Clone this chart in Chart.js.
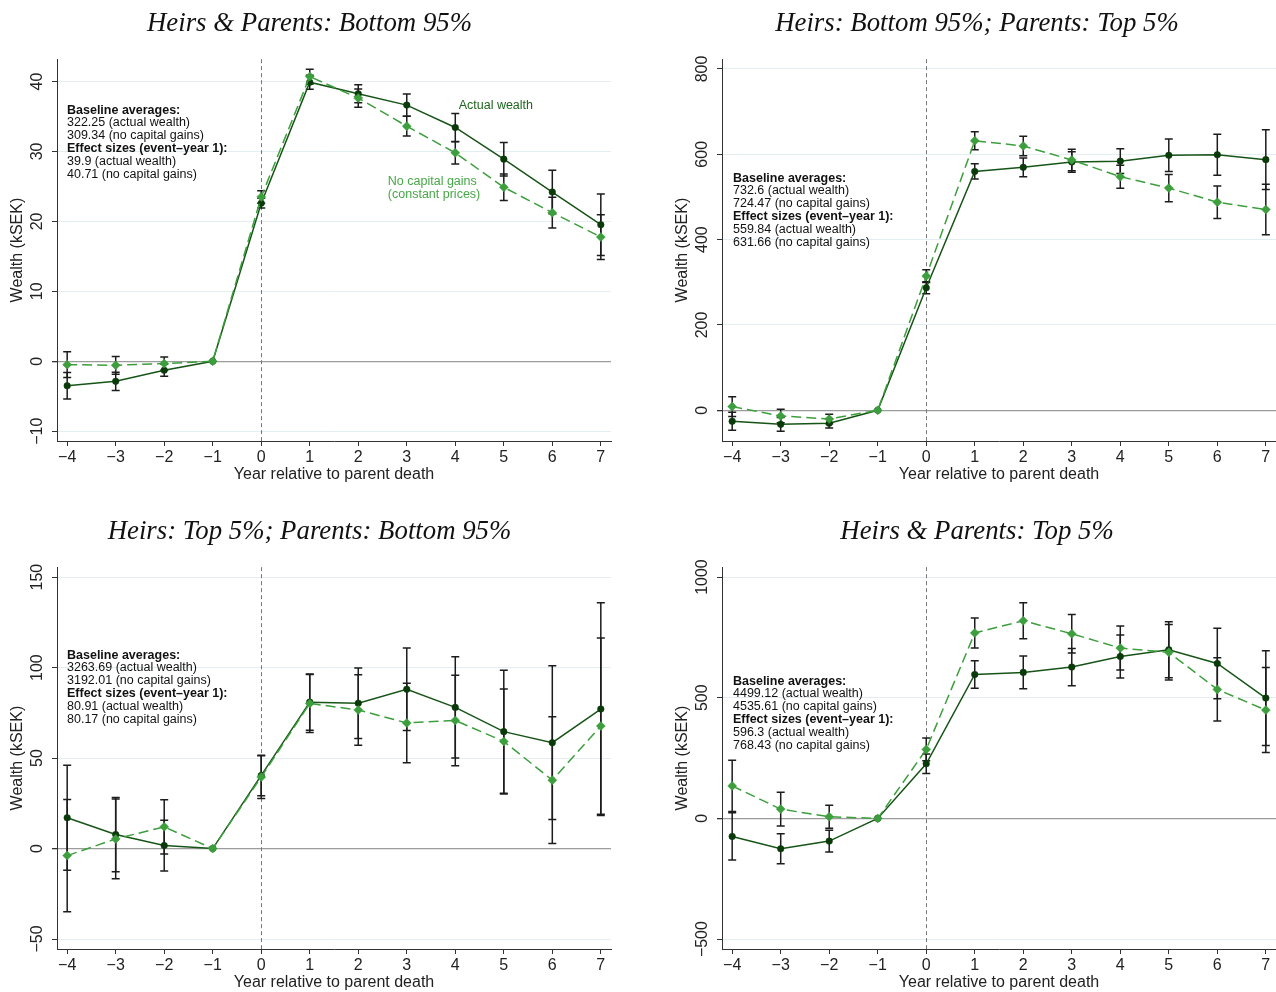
<!DOCTYPE html>
<html>
<head>
<meta charset="utf-8">
<title>Wealth around parent death</title>
<script src="https://cdn.jsdelivr.net/npm/chart.js@4.4.1/dist/chart.umd.min.js"></script>
<style>
  body { margin: 0; background: #fff; width: 1276px; height: 992px; position: relative; overflow: hidden; }
  .panel { position: absolute; }
</style>
</head>
<body>
<div class="panel" style="left:0;top:0"><canvas id="c1" width="638" height="484"></canvas></div>
<div class="panel" style="left:665px;top:0"><canvas id="c2" width="616" height="484"></canvas></div>
<div class="panel" style="left:0;top:508px"><canvas id="c3" width="638" height="484"></canvas></div>
<div class="panel" style="left:665px;top:508px"><canvas id="c4" width="616" height="484"></canvas></div>
<script>
const years = [-4, -3, -2, -1, 0, 1, 2, 3, 4, 5, 6, 7];

// Heirs & Parents: Bottom 95%
const p1Actual    = [-3.5, -2.87, -1.29, 0, 22.6, 39.9, 38.25, 36.63, 33.43, 28.9, 24.2, 19.53];
const p1ActualCI  = [1.9, 1.3, 0.86, 0, 0.7, 1.0, 1.3, 1.6, 2.0, 2.4, 3.1, 4.4];
const p1NoGains   = [-0.48, -0.57, -0.33, 0, 23.5, 40.71, 37.63, 33.62, 29.8, 24.88, 21.25, 17.76];
const p1NoGainsCI = [1.83, 1.27, 0.95, 0, 0.9, 1.05, 1.3, 1.4, 1.6, 1.9, 2.2, 3.2];
const p1YTicks    = [-10, 0, 10, 20, 30, 40];
const p1Notes     = ['Baseline averages:', '322.25 (actual wealth)', '309.34 (no capital gains)',
                     'Effect sizes (event\u2013year 1):', '39.9 (actual wealth)', '40.71 (no capital gains)'];

// Heirs: Bottom 95%; Parents: Top 5%
const p2Actual    = [-25.9, -33, -30.6, 0, 287, 559.84, 569.4, 582, 584, 597.6, 599, 587.5];
const p2ActualCI  = [21, 16, 11, 0, 14, 18, 22, 24, 29, 38, 48, 70];
const p2NoGains   = [8.6, -13.3, -20.4, 0, 314.5, 631.66, 619.6, 586.7, 547.5, 520.8, 487.8, 470.6];
const p2NoGainsCI = [23, 16, 11, 0, 15, 21, 23, 25, 27, 32, 38, 59];
const p2YTicks    = [0, 200, 400, 600, 800];
const p2Notes     = ['Baseline averages:', '732.6 (actual wealth)', '724.47 (no capital gains)',
                     'Effect sizes (event\u2013year 1):', '559.84 (actual wealth)', '631.66 (no capital gains)'];

// Heirs: Top 5%; Parents: Bottom 95%
const p3Actual    = [17, 7.75, 1.66, 0, 40.4, 80.91, 80.3, 88, 78, 64.6, 58.5, 77.1];
const p3ActualCI  = [29, 20.5, 14, 0, 11.2, 15.5, 19.5, 22.8, 28, 34, 42.5, 58.8];
const p3NoGains   = [-3.9, 5.35, 12, 0, 39.5, 80.17, 76.6, 69.4, 70.8, 59.2, 37.8, 67.7];
const p3NoGainsCI = [31, 22, 15, 0, 11.8, 16, 19.5, 22, 25, 29, 35, 48.7];
const p3YTicks    = [-50, 0, 50, 100, 150];
const p3Notes     = ['Baseline averages:', '3263.69 (actual wealth)', '3192.01 (no capital gains)',
                     'Effect sizes (event\u2013year 1):', '80.91 (actual wealth)', '80.17 (no capital gains)'];

// Heirs & Parents: Top 5%
const p4Actual    = [-74.6, -125.7, -94, 0, 226.5, 596.3, 605, 627, 671, 699, 642, 498.6];
const p4ActualCI  = [98, 62, 45, 0, 40, 57, 67.5, 77, 89, 116, 146, 196];
const p4NoGains   = [134.7, 38.7, 6.9, 0, 286, 768.43, 819, 765, 705.8, 688, 534.5, 449];
const p4NoGainsCI = [106, 70, 48, 0, 47, 62, 74.5, 80, 91, 115, 131, 176];
const p4YTicks    = [-500, 0, 500, 1000];
const p4Notes     = ['Baseline averages:', '4499.12 (actual wealth)', '4535.61 (no capital gains)',
                     'Effect sizes (event\u2013year 1):', '596.3 (actual wealth)', '768.43 (no capital gains)'];

const DARK = '#175417';
const DARK_PT = '#0a3a0a';
const LIGHT = '#3c9e3c';
const SANS = '"Liberation Sans", Arial, Helvetica, sans-serif';
const SERIF = '"Palatino Linotype", "URW Palladio L", "Liberation Serif", "DejaVu Serif", serif';

const fmt = v => (v < 0 ? '\u2212' + Math.abs(v) : String(v));

const panels = [
  { id: 'c1', title: 'Heirs & Parents: Bottom 95%', a: p1Actual, aCI: p1ActualCI, n: p1NoGains, nCI: p1NoGainsCI,
    yMin: -11.4, yMax: 43.2, yTicks: p1YTicks, notes: p1Notes, noteDx: 10, noteDy: 51, padRight: 27, seriesLabels: true },
  { id: 'c2', title: 'Heirs: Bottom 95%; Parents: Top 5%', a: p2Actual, aCI: p2ActualCI, n: p2NoGains, nCI: p2NoGainsCI,
    yMin: -72, yMax: 823, yTicks: p2YTicks, notes: p2Notes, noteDx: 11, noteDy: 119, padRight: 0 },
  { id: 'c3', title: 'Heirs: Top 5%; Parents: Bottom 95%', a: p3Actual, aCI: p3ActualCI, n: p3NoGains, nCI: p3NoGainsCI,
    yMin: -55.5, yMax: 155.5, yTicks: p3YTicks, notes: p3Notes, noteDx: 10, noteDy: 88, padRight: 27 },
  { id: 'c4', title: 'Heirs & Parents: Top 5%', a: p4Actual, aCI: p4ActualCI, n: p4NoGains, nCI: p4NoGainsCI,
    yMin: -541, yMax: 1041, yTicks: p4YTicks, notes: p4Notes, noteDx: 11, noteDy: 114, padRight: 0 }
];

// error bars + dashed line at year 0, drawn under the series
const underlay = {
  id: 'underlay',
  beforeDatasetsDraw(chart) {
    const { ctx, chartArea, scales: { x, y } } = chart;
    ctx.save();
    ctx.strokeStyle = '#777';
    ctx.lineWidth = 1;
    ctx.setLineDash([4, 3]);
    const x0 = Math.round(x.getPixelForValue(0)) + 0.5;
    ctx.beginPath();
    ctx.moveTo(x0, chartArea.top);
    ctx.lineTo(x0, chartArea.bottom);
    ctx.stroke();
    ctx.setLineDash([]);

    ctx.strokeStyle = '#1c1c1c';
    ctx.lineWidth = 1.5;
    chart.data.datasets.forEach(ds => {
      ds.data.forEach((p, i) => {
        const ci = ds.ci[i];
        if (!ci) return;
        const px = x.getPixelForValue(p.x);
        const hi = y.getPixelForValue(p.y + ci);
        const lo = y.getPixelForValue(p.y - ci);
        ctx.beginPath();
        ctx.moveTo(px, hi); ctx.lineTo(px, lo);
        ctx.moveTo(px - 4, hi); ctx.lineTo(px + 4, hi);
        ctx.moveTo(px - 4, lo); ctx.lineTo(px + 4, lo);
        ctx.stroke();
      });
    });
    ctx.restore();
  }
};

// rotated y tick labels, notes and series labels
const overlay = {
  id: 'overlay',
  afterDraw(chart) {
    const { ctx, chartArea, scales: { x, y } } = chart;
    const cfg = chart.options.plugins.overlay;
    ctx.save();
    ctx.fillStyle = '#222';
    ctx.font = '16px ' + SANS;
    ctx.textAlign = 'center';
    ctx.textBaseline = 'middle';
    cfg.yTicks.forEach(v => {
      ctx.save();
      ctx.translate(chartArea.left - 19, y.getPixelForValue(v));
      ctx.rotate(-Math.PI / 2);
      ctx.fillText(fmt(v), 0, 0);
      ctx.restore();
    });

    ctx.textAlign = 'left';
    ctx.fillStyle = '#111';
    cfg.notes.forEach((line, i) => {
      ctx.font = (i === 0 || i === 3 ? 'bold ' : '') + '12.5px ' + SANS;
      ctx.fillText(line, chartArea.left + cfg.noteDx, chartArea.top + cfg.noteDy + i * 12.8);
    });

    if (cfg.seriesLabels) {
      ctx.font = '12.5px ' + SANS;
      ctx.fillStyle = '#1e661e';
      ctx.fillText('Actual wealth', x.getPixelForValue(4.07), y.getPixelForValue(36.5));
      ctx.fillStyle = '#46a846';
      ctx.fillText('No capital gains', x.getPixelForValue(2.61), y.getPixelForValue(25.75));
      ctx.fillText('(constant prices)', x.getPixelForValue(2.61), y.getPixelForValue(23.9));
    }
    ctx.restore();
  }
};

panels.forEach(p => {
  new Chart(document.getElementById(p.id), {
    type: 'line',
    data: {
      datasets: [
        {
          label: 'No capital gains (constant prices)',
          data: years.map((yr, i) => ({ x: yr, y: p.n[i] })),
          ci: p.nCI,
          borderColor: LIGHT,
          borderWidth: 1.5,
          borderDash: [10, 5],
          pointStyle: 'rectRot',
          pointRadius: 4.5,
          pointBackgroundColor: LIGHT,
          pointBorderColor: LIGHT,
          pointBorderWidth: 0.5
        },
        {
          label: 'Actual wealth',
          data: years.map((yr, i) => ({ x: yr, y: p.a[i] })),
          ci: p.aCI,
          borderColor: DARK,
          borderWidth: 1.5,
          pointStyle: 'circle',
          pointRadius: 3.3,
          pointBackgroundColor: DARK_PT,
          pointBorderColor: DARK_PT,
          pointBorderWidth: 0.5
        }
      ]
    },
    options: {
      responsive: false,
      animation: false,
      layout: { padding: { left: 8, right: p.padRight, top: 0, bottom: 0 } },
      plugins: {
        legend: { display: false },
        tooltip: { enabled: false },
        title: {
          display: true,
          text: p.title,
          color: '#111',
          font: { family: SERIF, size: 26.8, style: 'italic', weight: 'normal' },
          padding: { top: 8, bottom: 19 }
        },
        overlay: { yTicks: p.yTicks, notes: p.notes, noteDx: p.noteDx, noteDy: p.noteDy, seriesLabels: !!p.seriesLabels }
      },
      scales: {
        x: {
          type: 'linear',
          min: -4.21,
          max: 7.21,
          afterBuildTicks: s => { s.ticks = years.map(v => ({ value: v })); },
          afterFit: s => { s.height = 43; },
          ticks: {
            autoSkip: false, maxRotation: 0, padding: 2, color: '#222',
            font: { family: SANS, size: 16 },
            callback: v => fmt(v)
          },
          grid: { drawOnChartArea: false, drawTicks: true, tickLength: 5, tickColor: '#333' },
          border: { display: true, color: '#333', width: 1 },
          title: {
            display: true, text: 'Year relative to parent death', color: '#222',
            font: { family: SANS, size: 16 }, padding: { top: 0, bottom: 0 }
          }
        },
        y: {
          type: 'linear',
          min: p.yMin,
          max: p.yMax,
          afterBuildTicks: s => { s.ticks = p.yTicks.map(v => ({ value: v })); },
          afterFit: s => { s.width = 49; },
          ticks: { display: false },
          grid: {
            drawTicks: true, tickLength: 5, tickColor: '#333',
            color: c => (c.tick && c.tick.value === 0 ? '#9c9c9c' : '#e3eef0'),
            lineWidth: c => (c.tick && c.tick.value === 0 ? 1.3 : 1)
          },
          border: { display: true, color: '#333', width: 1 },
          title: {
            display: true, text: 'Wealth (kSEK)', color: '#222',
            font: { family: SANS, size: 16 }, padding: { top: 0, bottom: 0 }
          }
        }
      }
    },
    plugins: [underlay, overlay]
  });
});
</script>
</body>
</html>
